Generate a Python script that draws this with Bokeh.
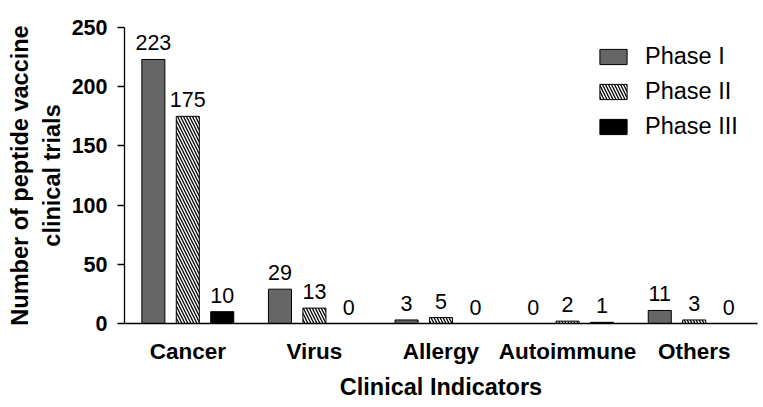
from bokeh.plotting import figure
from bokeh.models import (ColumnDataSource, Range1d, FixedTicker, LabelSet,
                          Legend, LegendItem)
from bokeh.core.properties import value
from bokeh.embed import file_html
from bokeh.resources import INLINE

categories = ["Cancer", "Virus", "Allergy", "Autoimmune", "Others"]
phases = ["Phase I", "Phase II", "Phase III"]
phase1 = [223, 29, 3, 0, 11]
phase2 = [175, 13, 5, 2, 3]
phase3 = [10, 0, 0, 1, 0]
y_ticks = [0, 50, 100, 150, 200, 250]

FONT = "Liberation Sans"
step = 0.272
bar_w = 0.182

p = figure(width=760, height=402, output_backend="svg", toolbar_location=None,
           x_range=Range1d(-0.5, 4.5), y_range=Range1d(0, 250),
           min_border_left=124, min_border_top=27, min_border_bottom=77,
           min_border_right=3)
p.outline_line_color = None
p.xgrid.grid_line_color = None
p.ygrid.grid_line_color = None
p.background_fill_color = "white"
p.border_fill_color = "white"

styles = [
    dict(fill_color="#666666"),
    dict(fill_color="white", hatch_pattern="\\", hatch_color="black",
         hatch_scale=6, hatch_weight=1.3),
    dict(fill_color="black"),
]
series = [phase1, phase2, phase3]
renderers = []
for k, (vals, st) in enumerate(zip(series, styles)):
    xs = [i + (k - 1) * step for i in range(len(categories))]
    src = ColumnDataSource(dict(x=xs, top=vals, lab=[str(v) for v in vals]))
    r = p.vbar(x="x", top="top", width=bar_w, bottom=0, source=src,
               line_color="black", line_width=1, **st)
    renderers.append(r)
    labels = LabelSet(x="x", y="top", text="lab", source=src, y_offset=9,
                      text_align="center", text_baseline="bottom",
                      text_font=value(FONT), text_font_size=value("21.5px"),
                      text_color="black")
    p.add_layout(labels)

legend = Legend(items=[LegendItem(label=ph, renderers=[r]) for ph, r in zip(phases, renderers)],
                location=(472, 183), orientation="vertical",
                glyph_width=34, glyph_height=19, label_height=27,
                label_standoff=15, spacing=8, padding=0, margin=0,
                border_line_color=None, background_fill_alpha=0,
                label_text_font=FONT, label_text_font_size="23.5px",
                label_text_color="black",
                label_text_baseline="middle")
p.add_layout(legend)

# x axis
xa = p.xaxis[0]
xa.ticker = FixedTicker(ticks=list(range(len(categories))))
xa.major_label_overrides = {i: c for i, c in enumerate(categories)}
xa.major_tick_line_color = None
xa.major_tick_in = 0
xa.major_tick_out = 0
xa.minor_tick_line_color = None
xa.major_label_standoff = 15
xa.major_label_text_font = FONT
xa.major_label_text_font_style = "bold"
xa.major_label_text_font_size = "22.5px"
xa.major_label_text_color = "black"
xa.axis_label = "Clinical Indicators"
xa.axis_label_text_font = FONT
xa.axis_label_text_font_style = "bold"
xa.axis_label_text_font_size = "23.5px"
xa.axis_label_text_color = "black"
xa.axis_label_standoff = 7
xa.axis_line_color = "black"
xa.axis_line_width = 1.3

# y axis
ya = p.yaxis[0]
ya.ticker = FixedTicker(ticks=y_ticks)
ya.major_tick_in = 0
ya.major_tick_out = 7
ya.minor_tick_line_color = None
ya.major_label_standoff = 10
ya.major_label_text_font = FONT
ya.major_label_text_font_style = "bold"
ya.major_label_text_font_size = "21.5px"
ya.major_label_text_color = "black"
ya.axis_label = "Number of peptide vaccine\nclinical trials"
ya.axis_label_text_font = FONT
ya.axis_label_text_font_style = "bold"
ya.axis_label_text_font_size = "23.5px"
ya.axis_label_text_color = "black"
ya.axis_label_standoff = 4
ya.axis_line_color = "black"
ya.axis_line_width = 1.3
ya.major_tick_line_color = "black"
ya.major_tick_line_width = 1.3

open("out.html", "w").write(file_html(p, INLINE))
